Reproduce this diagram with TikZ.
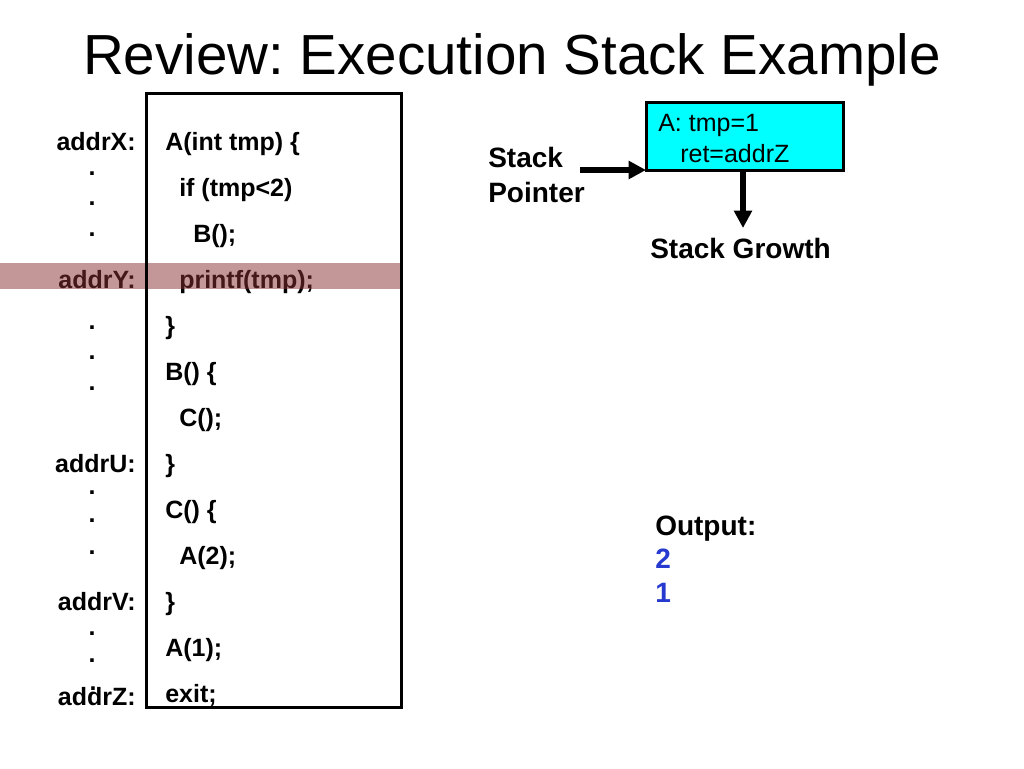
\documentclass[tikz,border=0pt]{standalone}
\usepackage{fontspec}
\setmainfont{Liberation Sans}
\usetikzlibrary{arrows.meta}
\definecolor{bandcol}{RGB}{136,48,48}
\definecolor{stackcyan}{RGB}{0,255,255}
\definecolor{outblue}{RGB}{38,58,208}
\frenchspacing
\begin{document}
\begin{tikzpicture}[x=0.75pt,y=-0.75pt,
  code/.style={anchor=base west,inner sep=0pt,font=\fontsize{18.75}{22}\selectfont\bfseries},
  addr/.style={anchor=base east,inner sep=0pt,font=\fontsize{18.75}{22}\selectfont\bfseries},
  dotmark/.style={anchor=base,inner sep=0pt,font=\fontsize{18.75}{22}\selectfont\bfseries},
  big/.style={anchor=base west,inner sep=0pt,font=\fontsize{21}{25}\selectfont\bfseries},
  frametext/.style={anchor=base west,inner sep=0pt,font=\fontsize{18.75}{22}\selectfont},
  outnum/.style={big,text=outblue},
  frame/.style={draw=black,line width=2.25pt},
  thickarrow/.style={line width=4.5pt,-{Triangle[length=13pt,width=13pt]}}]
\useasboundingbox (0,0) rectangle (1024,768);

% title
\node[anchor=base,inner sep=0pt,font=\fontsize{42.4}{50}\selectfont] (title) at (512,74) {Review: Execution Stack Example};

% code lines
\node[code] (c1) at (165,150) {A(int tmp) \{};
\node[code] (c2) at (179,196) {if (tmp<2)};
\node[code] (c3) at (193,242) {B();};
\node[code] (c4) at (179,288) {printf(tmp);};
\node[code] (c5) at (165,334) {\}};
\node[code] (c6) at (165,380) {B() \{};
\node[code] (c7) at (179,426) {C();};
\node[code] (c8) at (165,472) {\}};
\node[code] (c9) at (165,518) {C() \{};
\node[code] (c10) at (179,564) {A(2);};
\node[code] (c11) at (165,610) {\}};
\node[code] (c12) at (165,656) {A(1);};
\node[code] (c13) at (165,702) {exit;};

% address labels
\node[addr] (ax) at (136,150) {addrX:};
\node[addr] (ay) at (136,288) {addrY:};
\node[addr] (au) at (136,472) {addrU:};
\node[addr] (av) at (136,610) {addrV:};
\node[addr] (az) at (136,705) {addrZ:};

% dots
\node[dotmark] (d1) at (92,175) {.};
\node[dotmark] (d2) at (92,205) {.};
\node[dotmark] (d3) at (92,236) {.};
\node[dotmark] (d4) at (92,329) {.};
\node[dotmark] (d5) at (92,359) {.};
\node[dotmark] (d6) at (92,390) {.};
\node[dotmark] (d7) at (92,494) {.};
\node[dotmark] (d8) at (92,522) {.};
\node[dotmark] (d9) at (92,554) {.};
\node[dotmark] (d10) at (92,635) {.};
\node[dotmark] (d11) at (92,662) {.};
\node[dotmark] (d12) at (93,690) {.};

% highlight band
\fill[bandcol,opacity=0.5] (0,263) rectangle (401,289);

% code box
\draw[frame] (146,93) rectangle (401,707);

% stack frame
\node[frame,fill=stackcyan,minimum width=147.75pt,minimum height=51pt,inner sep=0pt,outer sep=0pt] (frame) at (744.5,136) {};
\node[frametext] (ft1) at (658,131) {A: tmp=1};
\node[frametext] (ft2) at (680,162) {ret=addrZ};

% stack pointer
\node[big] (sp1) at (488,167) {Stack};
\node[big] (sp2) at (488,202) {Pointer};
\coordinate (sptail) at (580,170);
\draw[thickarrow] (sptail |- frame.south west) -- (frame.south west);

% stack growth
\coordinate (growtip) at (743,228);
\draw[thickarrow] (frame.south -| growtip) -- (growtip);
\node[big] (growth) at (650,258) {Stack Growth};

% output
\node[big] (out) at (655,535) {Output:};
\node[outnum] (o2) at (655,568) {2};
\node[outnum] (o1) at (655,602) {1};
\end{tikzpicture}
\end{document}
